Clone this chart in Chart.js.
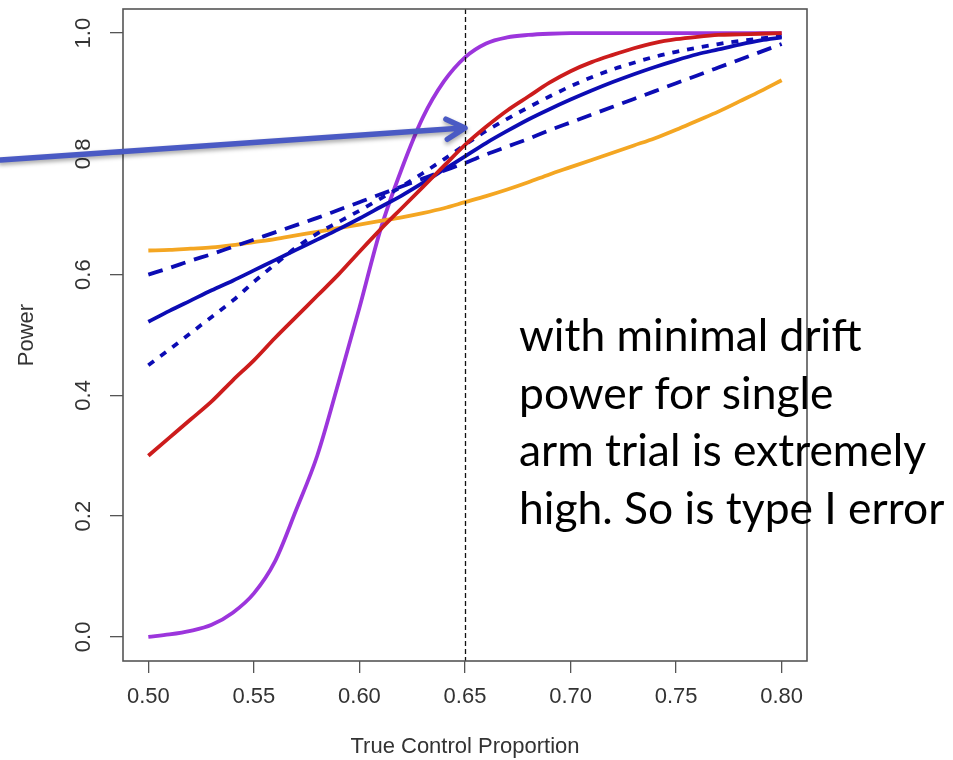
<!DOCTYPE html>
<html>
<head>
<meta charset="utf-8">
<script src="https://cdn.jsdelivr.net/npm/chart.js@4.4.1/dist/chart.umd.min.js"></script>
<style>
  html, body { margin: 0; padding: 0; background: #fff; }
  #wrap { width: 953px; height: 760px; }
</style>
</head>
<body>
<div id="wrap"><canvas id="power-chart" width="953" height="760"></canvas></div>
<script>
// --- DATA ---
const controlProp = [0.50, 0.51, 0.52, 0.53, 0.54, 0.55, 0.56, 0.57, 0.58, 0.59, 0.60,
                     0.61, 0.62, 0.63, 0.64, 0.65, 0.66, 0.67, 0.68, 0.69, 0.70,
                     0.71, 0.72, 0.73, 0.74, 0.75, 0.76, 0.77, 0.78, 0.79, 0.80];

const powerPurple = [0.000, 0.004, 0.010, 0.020, 0.040, 0.072, 0.125, 0.210, 0.300, 0.420, 0.545,
                     0.675, 0.775, 0.860, 0.920, 0.960, 0.983, 0.993, 0.997, 0.999, 1.000,
                     1.000, 1.000, 1.000, 1.000, 1.000, 1.000, 1.000, 1.000, 1.000, 1.000];
const powerRed    = [0.300, 0.330, 0.360, 0.390, 0.425, 0.458, 0.495, 0.530, 0.565, 0.600, 0.638,
                     0.675, 0.710, 0.745, 0.780, 0.815, 0.845, 0.872, 0.895, 0.918, 0.937,
                     0.952, 0.964, 0.975, 0.984, 0.990, 0.994, 0.997, 0.998, 0.999, 1.000];
const powerOrange = [0.640, 0.641, 0.643, 0.645, 0.649, 0.654, 0.659, 0.665, 0.671, 0.677, 0.683,
                     0.689, 0.695, 0.702, 0.710, 0.720, 0.730, 0.741, 0.753, 0.766, 0.778,
                     0.790, 0.802, 0.814, 0.826, 0.840, 0.855, 0.870, 0.887, 0.904, 0.922];
const powerBlue   = [0.522, 0.540, 0.557, 0.574, 0.590, 0.607, 0.624, 0.641, 0.658, 0.675, 0.693,
                     0.712, 0.731, 0.752, 0.774, 0.796, 0.818, 0.838, 0.857, 0.874, 0.890,
                     0.905, 0.919, 0.932, 0.944, 0.955, 0.965, 0.973, 0.981, 0.988, 0.993];
const powerBlueDash = [0.600, 0.611, 0.623, 0.634, 0.646, 0.658, 0.670, 0.682, 0.694, 0.707, 0.720,
                       0.733, 0.746, 0.759, 0.772, 0.785, 0.799, 0.812, 0.825, 0.839, 0.852,
                       0.865, 0.878, 0.891, 0.904, 0.917, 0.930, 0.943, 0.956, 0.969, 0.982];
const powerBlueDot  = [0.450, 0.476, 0.503, 0.530, 0.557, 0.588, 0.617, 0.645, 0.668, 0.687, 0.706,
                       0.726, 0.746, 0.768, 0.791, 0.815, 0.838, 0.858, 0.877, 0.895, 0.912,
                       0.927, 0.940, 0.951, 0.961, 0.969, 0.976, 0.982, 0.987, 0.991, 0.995];

const xTickValues = [0.50, 0.55, 0.60, 0.65, 0.70, 0.75, 0.80];
const yTickValues = [0.0, 0.2, 0.4, 0.6, 0.8, 1.0];
const refLineX = 0.65;
const arrowFrom = [0.430, 0.790];
const arrowTo = [0.650, 0.843];
const noteLines = ['with minimal drift', 'power for single', 'arm trial is extremely', 'high. So is type I error'];

const axisFont = "'Liberation Sans', Arial, sans-serif";

function pts(values) {
    return controlProp.map((x, i) => ({ x: x, y: values[i] }));
}

function series(values, color, dash) {
    return {
        data: pts(values),
        borderColor: color,
        borderWidth: 3.8,
        borderDash: dash || [],
        pointRadius: 0,
        fill: false,
        cubicInterpolationMode: 'monotone'
    };
}

// --- plugins: background, reference line, box, rotated y labels, arrow, note ---
const decorations = {
    id: 'decorations',
    beforeDraw(chart) {
        const ctx = chart.ctx;
        ctx.save();
        ctx.fillStyle = '#ffffff';
        ctx.fillRect(0, 0, chart.width, chart.height);
        ctx.restore();
    },
    afterDatasetsDraw(chart) {
        const ctx = chart.ctx;
        const area = chart.chartArea;
        const xs = chart.scales.x;
        const px = Math.round(xs.getPixelForValue(refLineX)) + 0.5;
        ctx.save();
        ctx.strokeStyle = '#111';
        ctx.lineWidth = 1.3;
        ctx.setLineDash([5, 3]);
        ctx.beginPath();
        ctx.moveTo(px, area.top);
        ctx.lineTo(px, area.bottom);
        ctx.stroke();
        ctx.setLineDash([]);
        ctx.strokeStyle = '#555';
        ctx.lineWidth = 1.6;
        ctx.strokeRect(area.left, area.top, area.right - area.left, area.bottom - area.top);
        ctx.restore();
    },
    afterDraw(chart) {
        const ctx = chart.ctx;
        const xs = chart.scales.x;
        const ys = chart.scales.y;

        // y tick labels, rotated like base R
        ctx.save();
        ctx.fillStyle = '#333';
        ctx.font = '22px ' + axisFont;
        ctx.textAlign = 'center';
        ctx.textBaseline = 'middle';
        yTickValues.forEach(v => {
            ctx.save();
            ctx.translate(84, ys.getPixelForValue(v));
            ctx.rotate(-Math.PI / 2);
            ctx.fillText(v.toFixed(1), 0, 0);
            ctx.restore();
        });
        ctx.restore();

        // arrow
        const x0 = xs.getPixelForValue(arrowFrom[0]), y0 = ys.getPixelForValue(arrowFrom[1]);
        const x1 = xs.getPixelForValue(arrowTo[0]), y1 = ys.getPixelForValue(arrowTo[1]);
        const ang = Math.atan2(y1 - y0, x1 - x0);
        ctx.save();
        ctx.strokeStyle = '#4a5ac4';
        ctx.lineWidth = 5.5;
        ctx.lineCap = 'round';
        ctx.lineJoin = 'round';
        ctx.shadowColor = 'rgba(0,0,0,0.35)';
        ctx.shadowBlur = 4;
        ctx.shadowOffsetY = 2.5;
        ctx.beginPath();
        ctx.moveTo(x0, y0);
        ctx.lineTo(x1 - 2 * Math.cos(ang), y1 - 2 * Math.sin(ang));
        ctx.moveTo(x1 - 21 * Math.cos(ang - 0.5), y1 - 21 * Math.sin(ang - 0.5));
        ctx.lineTo(x1, y1);
        ctx.lineTo(x1 - 21 * Math.cos(ang + 0.5), y1 - 21 * Math.sin(ang + 0.5));
        ctx.stroke();
        ctx.restore();

        // annotation text
        ctx.save();
        ctx.fillStyle = '#000';
        ctx.font = '40px Lato, "Open Sans", sans-serif';
        const w = ctx.measureText(noteLines[3]).width;
        const size = 40 * 425 / w;
        ctx.font = size.toFixed(1) + 'px Lato, "Open Sans", sans-serif';
        ctx.textAlign = 'left';
        ctx.textBaseline = 'alphabetic';
        noteLines.forEach((line, i) => ctx.fillText(line, 519, 351 + i * 57.5));
        ctx.restore();
    }
};

const chart = new Chart(document.getElementById('power-chart'), {
    type: 'line',
    data: {
        datasets: [
            series(powerRed, '#cc1c1c'),
            series(powerBlue, '#0c0cb4'),
            series(powerBlueDot, '#0c0cb4', [7, 8]),
            series(powerBlueDash, '#0c0cb4', [15, 9]),
            series(powerOrange, '#f4a622'),
            series(powerPurple, '#9c35dc')
        ]
    },
    options: {
        responsive: false,
        animation: false,
        devicePixelRatio: 1,
        layout: { padding: { top: 9, right: 146, bottom: 0, left: 0 } },
        plugins: { legend: { display: false }, tooltip: { enabled: false } },
        scales: {
            x: {
                type: 'linear',
                min: 0.488,
                max: 0.812,
                afterBuildTicks: s => { s.ticks = xTickValues.map(v => ({ value: v })); },
                afterFit: s => { s.height = 99; },
                grid: { drawOnChartArea: false, drawTicks: true, tickLength: 12, color: '#555', lineWidth: 1.3 },
                border: { display: false },
                ticks: {
                    color: '#333',
                    font: { family: axisFont, size: 22 },
                    padding: 11,
                    maxRotation: 0,
                    callback: v => v.toFixed(2)
                },
                title: {
                    display: true,
                    text: 'True Control Proportion',
                    color: '#333',
                    font: { family: axisFont, size: 22 },
                    padding: { top: 0, bottom: 0 }
                }
            },
            y: {
                type: 'linear',
                min: -0.04,
                max: 1.04,
                afterBuildTicks: s => { s.ticks = yTickValues.map(v => ({ value: v })); },
                afterFit: s => { s.width = 123; },
                grid: { drawOnChartArea: false, drawTicks: true, tickLength: 13, color: '#555', lineWidth: 1.3 },
                border: { display: false },
                ticks: { display: false },
                title: {
                    display: true,
                    text: 'Power',
                    color: '#333',
                    font: { family: axisFont, size: 22 },
                    padding: { top: 14, bottom: 0 }
                }
            }
        }
    },
    plugins: [decorations]
});
</script>
</body>
</html>
